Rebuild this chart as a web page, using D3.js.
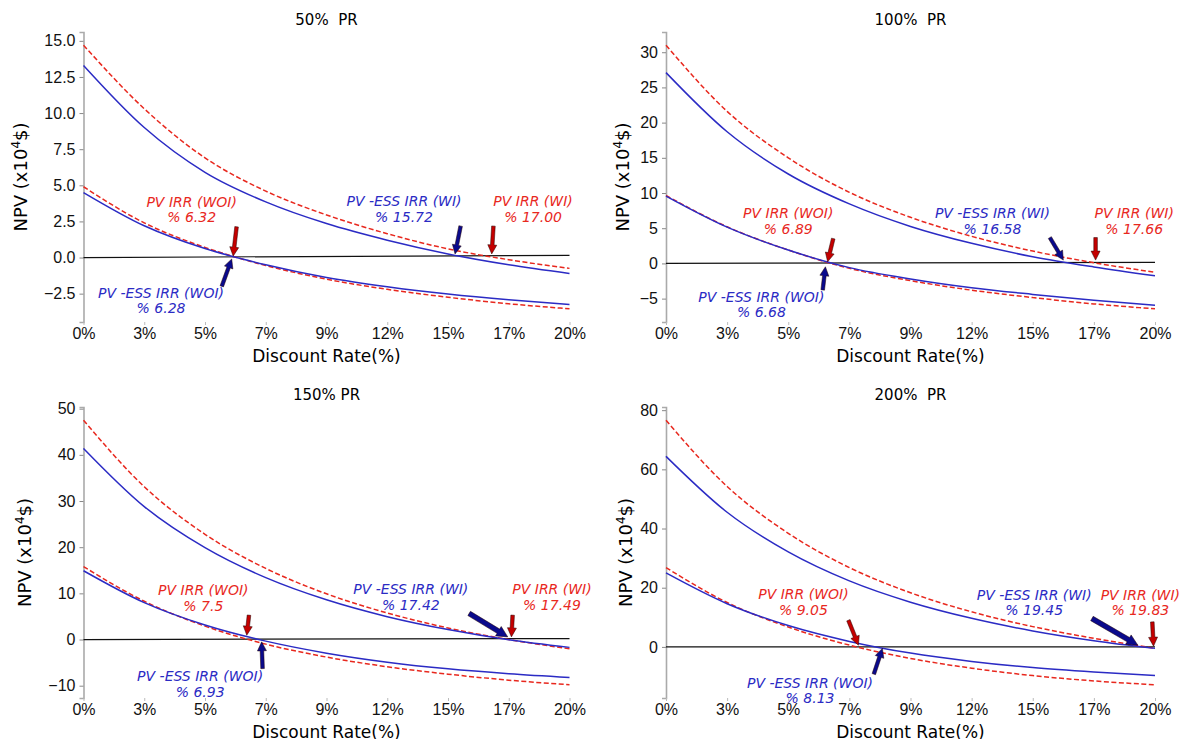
<!DOCTYPE html>
<meta charset="utf-8">
<style>
body { margin: 0; background: #fff; }
svg { font-family: "DejaVu Sans", sans-serif; }
.tick text { font-size: 16px; fill: #111; }
.note { font-size: 14px; font-style: italic; }
</style>
<body>
<div id="chart"></div>
<script src="https://cdn.jsdelivr.net/npm/d3@7"></script>
<script>
// discount rate samples (%) and axis ticks
var rates = [0, 2.5, 5, 7.5, 10, 12.5, 15, 17.5, 20];
var xTicks = [0, 2.5, 5, 7.5, 10, 12.5, 15, 17.5, 20];
var xTickLabels = ["0%", "3%", "5%", "7%", "9%", "12%", "15%", "17%", "20%"];

// NPV (x10^4 $)
var pvWI_50    = [14.7, 10.3, 6.9, 4.6, 2.95, 1.65, 0.6, -0.15, -0.75];
var essWI_50   = [13.3, 9.0, 5.9, 3.85, 2.35, 1.2, 0.25, -0.5, -1.1];
var pvWOI_50   = [4.9, 2.4, 0.7, -0.55, -1.5, -2.2, -2.75, -3.2, -3.55];
var essWOI_50  = [4.5, 2.2, 0.62, -0.5, -1.38, -2.02, -2.53, -2.93, -3.25];

var pvWI_100   = [31.0, 21.6, 15.0, 10.1, 6.55, 3.85, 1.75, 0.1, -1.27];
var essWI_100  = [27.1, 18.7, 12.7, 8.45, 5.25, 2.85, 0.95, -0.5, -1.75];
var pvWOI_100  = [9.65, 5.2, 1.9, -0.7, -2.45, -3.8, -4.85, -5.75, -6.45];
var essWOI_100 = [9.56, 5.15, 1.9, -0.6, -2.2, -3.45, -4.4, -5.25, -5.95];

var pvWI_150   = [47.5, 33.1, 22.8, 15.4, 9.9, 5.75, 2.5, 0.0, -2.0];
var essWI_150  = [41.4, 28.8, 19.9, 13.4, 8.6, 4.95, 2.15, -0.05, -1.7];
var pvWOI_150  = [15.8, 8.3, 2.9, -1.0, -3.8, -5.9, -7.5, -8.8, -9.8];
var essWOI_150 = [14.9, 8.0, 3.15, -0.35, -2.95, -4.9, -6.35, -7.4, -8.2];

var pvWI_200   = [76.6, 54.2, 38.4, 26.8, 18.3, 11.85, 6.85, 2.9, -0.45];
var essWI_200  = [64.4, 45.5, 32.1, 22.3, 15.1, 9.65, 5.4, 2.1, -0.5];
var pvWOI_200  = [26.8, 15.0, 6.7, 0.6, -3.9, -7.2, -9.7, -11.5, -12.8];
var essWOI_200 = [25.0, 14.6, 7.2, 1.85, -2.1, -4.9, -7.0, -8.5, -9.7];

var titles = ["50%  PR", "100%  PR", "150% PR", "200%  PR"];
var yTicks = [
  [-2.5, 0, 2.5, 5, 7.5, 10, 12.5, 15],
  [-5, 0, 5, 10, 15, 20, 25, 30],
  [-10, 0, 10, 20, 30, 40, 50],
  [0, 20, 40, 60, 80]
];
var yTickFormat = [".1f", "d", "d", "d"];
// the black reference line ends slightly above zero in the original
var zeroEnd = [0.15, 0.14, 0.2, 0];

// IRR labels: [text line 1, line 2, x, y] in data units
var notes = [
  [["PV IRR (WOI)", "% 6.32", 4.45, 3.85], ["PV -ESS IRR (WOI)", "% 6.28", 3.19, -2.45],
   ["PV -ESS IRR (WI)", "% 15.72", 13.19, 3.91], ["PV IRR (WI)", "% 17.00", 18.5, 3.91]],
  [["PV IRR (WOI)", "% 6.89", 5.0, 7.15], ["PV -ESS IRR (WOI)", "% 6.68", 3.9, -4.75],
   ["PV -ESS IRR (WI)", "% 16.58", 13.35, 7.15], ["PV IRR (WI)", "% 17.66", 19.15, 7.15]],
  [["PV IRR (WOI)", "% 7.5", 4.93, 10.7], ["PV -ESS IRR (WOI)", "% 6.93", 4.8, -8.0],
   ["PV -ESS IRR (WI)", "% 17.42", 13.47, 10.9], ["PV IRR (WI)", "% 17.49", 19.28, 10.9]],
  [["PV IRR (WOI)", "% 9.05", 5.62, 17.8], ["PV -ESS IRR (WOI)", "% 8.13", 5.89, -12.2],
   ["PV -ESS IRR (WI)", "% 19.45", 15.06, 17.7], ["PV IRR (WI)", "% 19.83", 19.4, 17.7]]
];
// arrows: [tailX, tailY, tipX, tipY] in data units, same order as notes
var arrows = [
  [[6.3, 2.13, 6.16, 0.1], [5.69, -1.99, 6.1, -0.1], [15.52, 2.18, 15.29, 0.25], [16.87, 2.18, 16.8, 0.25]],
  [[6.84, 3.53, 6.61, 0.23], [6.41, -3.77, 6.52, -0.48], [15.7, 3.67, 16.25, 0.47], [17.57, 3.67, 17.57, 0.47]],
  [[6.81, 5.28, 6.72, 0.93], [7.37, -6.3, 7.33, -0.5], [15.87, 5.65, 17.46, 0.57], [17.66, 5.28, 17.61, 0.57]],
  [[7.46, 9.0, 7.87, 0.57], [8.5, -9.2, 8.85, -0.5], [17.42, 9.6, 19.3, 0.57], [19.89, 8.45, 19.94, 0.24]]
];

var series = [
  [pvWI_50, essWI_50, pvWOI_50, essWOI_50],
  [pvWI_100, essWI_100, pvWOI_100, essWOI_100],
  [pvWI_150, essWI_150, pvWOI_150, essWOI_150],
  [pvWI_200, essWI_200, pvWOI_200, essWOI_200]
];

// panel boxes in page pixels
var boxes = [
  {x0: 83.5, x1: 569.5, y0: 32, y1: 322, ylab: 21},
  {x0: 666, x1: 1155, y0: 32, y1: 322, ylab: 623},
  {x0: 83.5, x1: 569.5, y0: 407, y1: 698, ylab: 25},
  {x0: 666, x1: 1155, y0: 407, y1: 698, ylab: 626}
];

var RED = "#e8281e", BLUE = "#2b2bc4";
var noteColor = [RED, BLUE, BLUE, RED];
var arrowFill = ["#c40000", "#0a0a8c", "#0a0a8c", "#c40000"];

var svg = d3.select("#chart").append("svg")
  .attr("width", 1187).attr("height", 739);

function arrowPath(x1, y1, x2, y2, w, hw, hl) {
  var dx = x2 - x1, dy = y2 - y1, len = Math.sqrt(dx * dx + dy * dy);
  var ux = dx / len, uy = dy / len, nx = -uy, ny = ux;
  var bx = x2 - ux * hl, by = y2 - uy * hl;
  var p = [
    [x1 + nx * w / 2, y1 + ny * w / 2], [bx + nx * w / 2, by + ny * w / 2],
    [bx + nx * hw / 2, by + ny * hw / 2], [x2, y2],
    [bx - nx * hw / 2, by - ny * hw / 2], [bx - nx * w / 2, by - ny * w / 2],
    [x1 - nx * w / 2, y1 - ny * w / 2]
  ];
  return "M" + p.map(function(d) { return d[0] + "," + d[1]; }).join("L") + "Z";
}

boxes.forEach(function(b, i) {
  var all = d3.merge(series[i]);
  var lo = d3.min(all), hi = d3.max(all), pad = (hi - lo) * 0.05;
  var x = d3.scaleLinear().domain([0, 20]).range([b.x0, b.x1]);
  var y = d3.scaleLinear().domain([lo - pad, hi + pad]).range([b.y1, b.y0]);
  var g = svg.append("g");

  // y axis with left spine only
  var yAxis = g.append("g")
    .attr("transform", "translate(" + b.x0 + ",0)")
    .call(d3.axisLeft(y).tickValues(yTicks[i]).tickFormat(d3.format(yTickFormat[i])).tickSize(4).tickPadding(4));
  yAxis.select(".domain").attr("stroke", "#aaa").attr("stroke-width", 1.6);
  yAxis.selectAll(".tick line").attr("stroke", "#888");

  var xAxis = g.append("g")
    .attr("transform", "translate(0," + b.y1 + ")")
    .call(d3.axisBottom(x).tickValues(xTicks).tickFormat(function(d, k) { return xTickLabels[k]; }).tickSize(3).tickPadding(3));
  xAxis.select(".domain").remove();
  xAxis.selectAll(".tick line").attr("stroke", "#bbb");

  // title and axis labels
  g.append("text")
    .attr("x", (b.x0 + b.x1) / 2).attr("y", b.y0 - 7)
    .attr("text-anchor", "middle").style("font-size", "15px").style("white-space", "pre")
    .text(titles[i]);
  g.append("text")
    .attr("x", (b.x0 + b.x1) / 2).attr("y", b.y1 + 40)
    .attr("text-anchor", "middle").style("font-size", "17px")
    .text("Discount Rate(%)");
  var yl = g.append("text")
    .attr("transform", "translate(" + (b.ylab + 6) + "," + ((b.y0 + b.y1) / 2) + ") rotate(-90)")
    .attr("text-anchor", "middle").style("font-size", "18px");
  yl.append("tspan").text("NPV (x10");
  yl.append("tspan").attr("dy", -7).style("font-size", "12px").text("4");
  yl.append("tspan").attr("dy", 7).text("$)");

  // zero reference line
  g.append("line")
    .attr("x1", x(0)).attr("y1", y(0))
    .attr("x2", x(20)).attr("y2", y(zeroEnd[i]))
    .attr("stroke", "#111").attr("stroke-width", 1.2);

  var line = d3.line()
    .x(function(d, k) { return x(rates[k]); })
    .y(function(d) { return y(d); })
    .curve(d3.curveMonotoneX);

  var styles = [
    {c: RED, dash: "5,2.5"}, {c: BLUE, dash: null},
    {c: RED, dash: "5,2.5"}, {c: BLUE, dash: null}
  ];
  series[i].forEach(function(s, k) {
    g.append("path").datum(s)
      .attr("d", line)
      .attr("fill", "none")
      .attr("stroke", styles[k].c)
      .attr("stroke-width", 1.5)
      .attr("stroke-dasharray", styles[k].dash);
  });

  // annotations
  notes[i].forEach(function(n, k) {
    var t = g.append("text").attr("class", "note")
      .attr("text-anchor", "middle").attr("fill", noteColor[k])
      .attr("x", x(n[2])).attr("y", y(n[3]) + 5);
    t.append("tspan").attr("x", x(n[2])).text(n[0]);
    t.append("tspan").attr("x", x(n[2])).attr("dy", 15.5).text(n[1]);
  });
  arrows[i].forEach(function(a, k) {
    var x1 = x(a[0]), y1 = y(a[1]), x2 = x(a[2]), y2 = y(a[3]);
    var len = Math.hypot(x2 - x1, y2 - y1);
    var big = len > 40;
    g.append("path")
      .attr("d", arrowPath(x1, y1, x2, y2, big ? 5 : 3.6, big ? 11 : 9, big ? 11 : 9))
      .attr("fill", arrowFill[k])
      .attr("stroke", "#220000").attr("stroke-width", 0.5);
  });
});
</script>
</body>
